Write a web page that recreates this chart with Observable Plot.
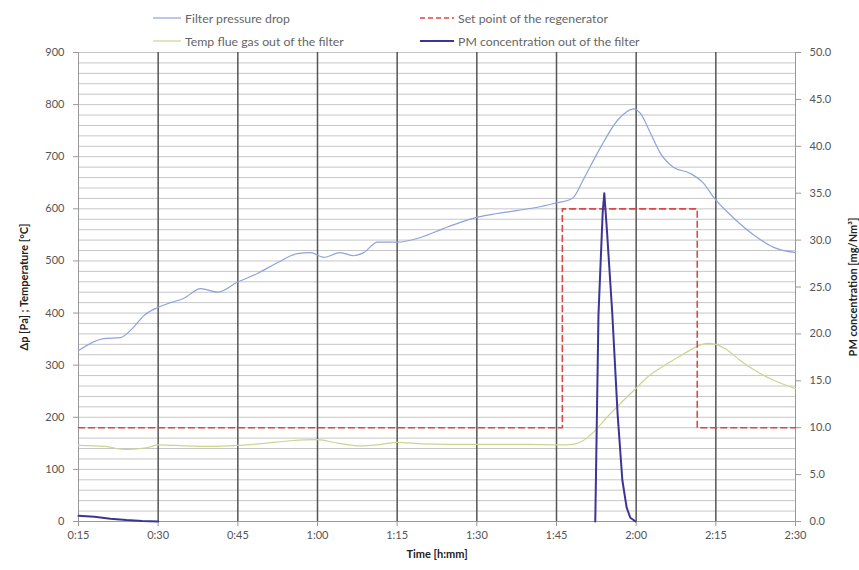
<!DOCTYPE html>
<html><head><meta charset="utf-8">
<script src="https://cdn.jsdelivr.net/npm/d3@7"></script>
<script src="https://cdn.jsdelivr.net/npm/@observablehq/plot@0.6"></script>
<style>
body{margin:0;background:#fff;font-family:Lato,"Open Sans",sans-serif;}
#legend{position:relative;width:859px;height:46px;font-size:12.3px;color:#666;}
.item{position:absolute;display:flex;align-items:center;white-space:nowrap;height:14px;}
.item svg{margin-right:4px;display:block}
</style></head><body>
<div id="legend"></div>
<div id="chart"></div>
<script>
// ---- data (time in minutes since 0:00) ----
const pressureTime = [15,19.7,22.9,25.3,27.3,30,32.3,34.8,38,41.2,44.9,48.7,52.5,56.2,58.7,61.2,64.3,66.8,68.7,71.3,75,79.4,83.7,86.9,90.1,93.9,97.7,101.4,105.2,107.6,108.2,110,113.3,116.5,119.5,120.8,122.7,124.6,127,130.2,132.7,134.6,138.3,142.8,145.9,150];
const pressureDrop = [328,351,353,372,395,411,420,428,447,440,459,476,497,514,516,507,516,510,516,536,536,545,562,574,584,591,597,603,612,618,622,655,718,770,792,783,745,706,680,668,649,622,583,545,526,516];

const tempTime = [15,20,24,28,30,35,40,45,50,55,60,64,68,72,75,80,90,100,105,108,110,112,114.5,117,119.5,122,125.9,129,131.5,133.4,135,137,139.6,142,145.9,150];
const tempValues = [146,144,138,142,147,145,144,146,150,155,157,150,145,148,152,149,148,148,147,148,155,172,200,226,251,276,303,322,336,342,340,330,309,292,271,255];

const setTime = [15,106.1,106.1,131.5,131.5,150];
const setValues = [180,180,600,600,180,180];

const pmTime = [15,18,21,24,27,30,31,112.3,112.9,113.7,114,114.5,115.5,116.5,117.4,118.2,118.9,119.9];
const pmValues = [0.6,0.5,0.3,0.15,0.05,0,NaN,0,22,33,35,31,22.2,11.5,4.4,1.5,0.4,0];

const leftTicks = [0,100,200,300,400,500,600,700,800,900];
const rightTicks = [0,5,10,15,20,25,30,35,40,45,50];
const timeTicks = [15,30,45,60,75,90,105,120,135,150];

const seriesNames = ["Filter pressure drop","Temp flue gas out of the filter","Set point of the regenerator","PM concentration out of the filter"];
const seriesColors = ["#8fa2dc","#cdd48e","#dc4848","#3d3494"];

// ---- helpers ----
const pmFactor = 900 / 50;
const fmtTime = m => `${Math.floor(m/60)}:${String(m%60).padStart(2,"0")}`;
const pressure = pressureTime.map((t,i) => ({t, v: pressureDrop[i]}));
const temp = tempTime.map((t,i) => ({t, v: tempValues[i]}));
const setpoint = setTime.map((t,i) => ({t, v: setValues[i]}));
const pm = pmTime.map((t,i) => ({t, v: pmValues[i] * pmFactor}));

// ---- legend ----
const legend = document.getElementById("legend");
const legendPos = [[153,11],[153,34],[420,11],[420,34]];
seriesNames.forEach((name,i) => {
  const d = document.createElement("div");
  d.className = "item";
  d.style.left = legendPos[i][0] + "px";
  d.style.top = legendPos[i][1] + "px";
  const dash = i === 2 ? 'stroke-dasharray="5,3"' : '';
  const w = i === 2 ? 1.5 : (i === 3 ? 1.8 : 1.2);
  const sw = i >= 2 ? 34 : 28;
  d.innerHTML = `<svg width="${sw}" height="6"><line x1="0" y1="3" x2="${sw}" y2="3" stroke="${seriesColors[i]}" stroke-width="${w}" ${dash}/></svg><span>${name}</span>`;
  legend.appendChild(d);
});

// ---- chart ----
const chart = Plot.plot({
  width: 859, height: 524,
  marginTop: 6, marginBottom: 49, marginLeft: 78, marginRight: 64,
  style: {fontFamily: "Lato, 'Open Sans', sans-serif", fontSize: "11px", color: "#555", background: "#fff", overflow: "visible"},
  x: {domain: [15,150]},
  y: {domain: [0,900]},
  marks: [
    Plot.gridY(d3.range(0,901,20), {stroke:"#c6c6c6", strokeOpacity:1}),
    Plot.gridX(timeTicks.slice(1,-1), {stroke:"#555", strokeOpacity:1, strokeWidth:1.5}),
    Plot.ruleX([15,150], {stroke:"#999"}),
    Plot.ruleY([0], {stroke:"#999"}),
    Plot.axisY(leftTicks, {anchor:"left", tickSize:5, tickPadding:9, stroke:"#999",
      label:"Δp [Pa] ; Temperature [°C]", labelAnchor:"center", labelOffset:58, labelArrow:"none"}),
    Plot.axisY(rightTicks.map(d => d*pmFactor), {anchor:"right", tickSize:5, tickPadding:9, stroke:"#999",
      tickFormat: d => (d/pmFactor).toFixed(1),
      label:"PM concentration [mg/Nm³]", labelAnchor:"center", labelOffset:61, labelArrow:"none"}),
    Plot.axisX(timeTicks, {tickSize:5, tickPadding:5, stroke:"#999", tickFormat: fmtTime,
      label:"Time [h:mm]", labelAnchor:"center", labelOffset:36, labelArrow:"none"}),
    Plot.line(temp, {x:"t", y:"v", stroke: seriesColors[1], strokeWidth:1.2, curve:"monotone-x"}),
    Plot.line(pressure, {x:"t", y:"v", stroke: seriesColors[0], strokeWidth:1.2, curve:"monotone-x"}),
    Plot.line(setpoint, {x:"t", y:"v", stroke: seriesColors[2], strokeWidth:1.6, strokeDasharray:"6,4"}),
    Plot.line(pm, {x:"t", y:"v", stroke: seriesColors[3], strokeWidth:2})
  ]
});
document.getElementById("chart").appendChild(chart);
d3.select(chart).selectAll('g[aria-label$="axis label"] text')
  .attr("font-weight","bold").attr("fill","#222");
</script>
</body></html>
